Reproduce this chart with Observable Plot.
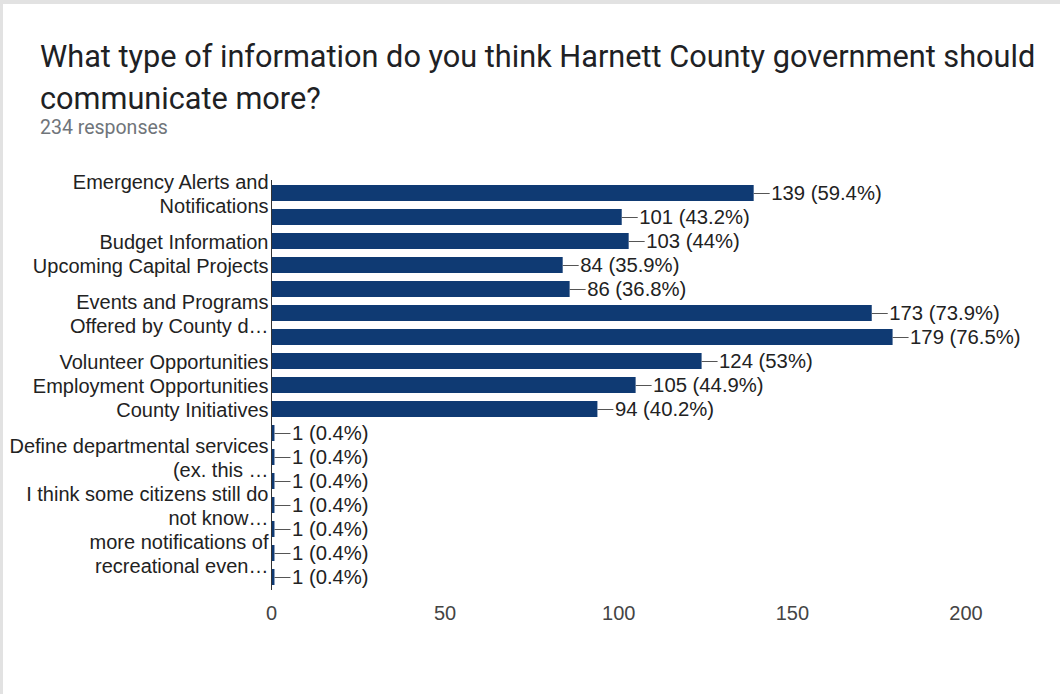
<!DOCTYPE html>
<html>
<head>
<meta charset="utf-8">
<script src="https://cdn.jsdelivr.net/npm/d3@7"></script>
<script src="https://cdn.jsdelivr.net/npm/@observablehq/plot@0.6"></script>
<style>
  html, body { margin: 0; padding: 0; background: #fff; }
  body { width: 1060px; height: 694px; position: relative; overflow: hidden; }
  #frame { position: absolute; left: 0; top: 0; width: 1057px; height: 690px; border-top: 4px solid #e2e2e2; border-left: 3px solid #e2e2e2; pointer-events: none; z-index: 2; }
  #title { position: absolute; left: 40px; top: 36px; width: 1015px; font-family: Roboto, "Noto Sans", sans-serif; font-size: 30.7px; line-height: 42px; color: #202124; }
  #sub { position: absolute; left: 40px; top: 116px; font-family: Roboto, sans-serif; font-size: 19.5px; line-height: 24px; color: #70757a; }
  #chart { position: absolute; left: 0; top: 0; }
</style>
</head>
<body>
<div id="frame"></div>
<div id="chart"></div>
<div id="title">What type of information do you think Harnett County government should communicate more?</div>
<div id="sub">234 responses</div>
<script>
const categories = [
  "Emergency Alerts and\nNotifications", "", "Budget Information", "Upcoming Capital Projects", "",
  "Events and Programs\nOffered by County d…", "", "Volunteer Opportunities", "Employment Opportunities",
  "County Initiatives", "", "Define departmental services\n(ex. this …", "", "I think some citizens still do\nnot know…",
  "", "more notifications of\nrecreational even…", ""
];
const counts = [139, 101, 103, 84, 86, 173, 179, 124, 105, 94, 1, 1, 1, 1, 1, 1, 1];
const percents = ["59.4", "43.2", "44", "35.9", "36.8", "73.9", "76.5", "53", "44.9", "40.2", "0.4", "0.4", "0.4", "0.4", "0.4", "0.4", "0.4"];
const xTicks = [0, 50, 100, 150, 200];

const data = categories.map((label, i) => ({id: i, label, value: counts[i], pct: percents[i]}));

const chart = Plot.plot({
  width: 1060,
  height: 694,
  marginLeft: 271,
  marginRight: 94.5,
  marginTop: 180,
  marginBottom: 104,
  style: {fontFamily: "'Liberation Sans', Arial, sans-serif", background: "transparent"},
  x: {domain: [0, 200], ticks: xTicks, label: null},
  y: {domain: data.map(d => d.id), paddingInner: 0.35, paddingOuter: 0.175, axis: null},
  marks: [
    Plot.axisX({ticks: xTicks, tickSize: 0, tickPadding: 15, fontSize: 20, fill: "#444", label: null}),
    Plot.barX(data, {x: "value", y: "id", fill: "#0f3a73"}),
    Plot.ruleX([0], {stroke: "#333", strokeWidth: 1}),
    Plot.ruleY(data, {y: "id", x1: "value", x2: "value", insetRight: -16, stroke: "#555", strokeWidth: 1}),
    Plot.text(data, {x: "value", y: "id", text: d => `${d.value} (${d.pct}%)`, textAnchor: "start", dx: 17, fontSize: 20.3, fill: "#222"}),
    Plot.text(data, {x: 0, y: "id", text: "label", textAnchor: "end", dx: -3, fontSize: 20, lineHeight: 1.16, fill: "#222"})
  ]
});
document.getElementById("chart").appendChild(chart);
</script>
</body>
</html>
